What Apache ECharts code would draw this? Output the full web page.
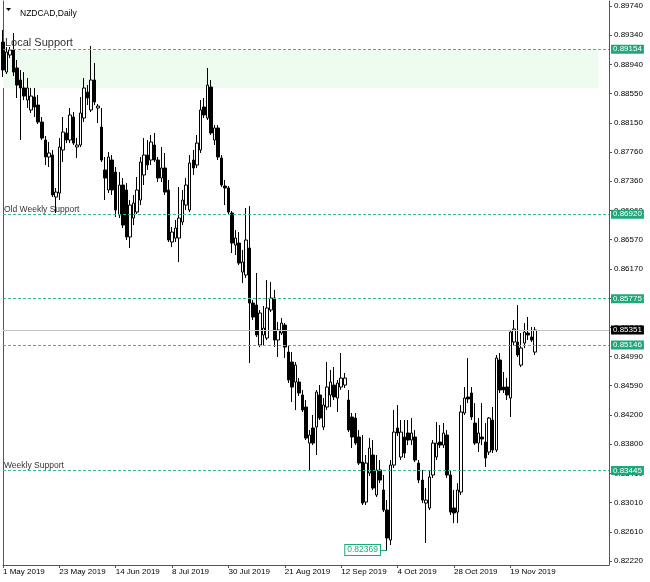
<!DOCTYPE html>
<html>
<head>
<meta charset="utf-8">
<script src="https://cdn.jsdelivr.net/npm/echarts@6/dist/echarts.min.js"></script>
<style>
html,body{margin:0;padding:0;background:#fff;}
#chart{width:650px;height:582px;}
</style>
</head>
<body>
<div id="chart"></div>
<script>
const FONT = "'Liberation Sans', Arial, sans-serif";
const symbolName = 'NZDCAD,Daily';
const xTickLabels = ['1 May 2019','23 May 2019','14 Jun 2019','8 Jul 2019','30 Jul 2019','21 Aug 2019','12 Sep 2019','4 Oct 2019','28 Oct 2019','19 Nov 2019'];
const yTickLabels = ['0.82220','0.82610','0.83010','0.83410','0.83800','0.84200','0.84590','0.84990','0.85380','0.85780','0.86170','0.86570','0.86960','0.87360','0.87760','0.88150','0.88550','0.88940','0.89340','0.89740'];
const yMin = 0.8222, yMax = 0.8974;
const barsPerLabel = 16;
const totalSlots = 173;

const openPrices = [
0.89252,0.88845,0.89076,0.89144,0.88900,0.88737,0.88629,0.88466,0.88331,0.88507,
0.88398,0.88168,0.87924,0.87694,0.87721,0.87152,0.87206,0.87789,0.88019,0.87924,
0.88236,0.87829,0.87856,0.88222,0.88574,0.88331,0.88737,0.88358,0.88100,0.87518,
0.87247,0.87653,0.87490,0.86908,0.87314,0.87247,0.86610,0.86867,0.86948,0.87111,
0.87450,0.87721,0.87653,0.87856,0.87653,0.87409,0.87545,0.87247,0.86542,0.86596,
0.86596,0.86813,0.87043,0.86976,0.87653,0.87585,0.87789,0.88371,0.88222,0.88642,
0.87924,0.88087,0.87680,0.87301,0.87274,0.86935,0.86501,0.86528,0.86135,0.86095,
0.86461,0.85715,0.85688,0.85146,0.85282,0.85241,0.85621,0.85783,0.85214,0.85309,
0.85417,0.85051,0.84916,0.84645,0.84645,0.84469,0.84306,0.83818,0.84022,0.84035,
0.84469,0.84035,0.84306,0.84469,0.84604,0.84428,0.84577,0.84604,0.84401,0.84171,
0.84157,0.83900,0.83561,0.83019,0.83412,0.83656,0.83114,0.83453,0.83182,0.82911,
0.82504,0.83520,0.84022,0.83629,0.83900,0.83954,0.83859,0.83900,0.83547,0.83317,
0.83005,0.82938,0.83385,0.83629,0.83832,0.83791,0.83927,0.83385,0.82938,0.82883,
0.83154,0.84225,0.84442,0.84496,0.84089,0.83818,0.83900,0.83832,0.83696,0.84130,
0.83724,0.84943,0.84577,0.84577,0.84428,0.85187,0.85187,0.84875,0.85173,0.85309,0.85255,0.85051];
const highPrices = [
0.89415,0.89184,0.89184,0.89374,0.89008,0.88873,0.88845,0.88764,0.88629,0.88629,
0.88534,0.88236,0.87978,0.87897,0.87789,0.87274,0.87951,0.88236,0.88087,0.88358,
0.88303,0.87951,0.88507,0.88764,0.88669,0.89198,0.88967,0.88412,0.88358,0.87694,
0.87761,0.87721,0.87558,0.87490,0.87409,0.87341,0.87111,0.87179,0.87423,0.87694,
0.87951,0.87924,0.87992,0.88019,0.87694,0.87829,0.87748,0.87382,0.86745,0.86840,
0.87287,0.87247,0.87409,0.87721,0.87789,0.87992,0.88466,0.88493,0.88900,0.88737,
0.88127,0.88127,0.87721,0.87382,0.87301,0.86962,0.86705,0.86677,0.86434,0.87003,
0.87030,0.85756,0.86122,0.85621,0.85675,0.86027,0.86000,0.85892,0.85458,0.85512,
0.85444,0.85146,0.85051,0.84916,0.84699,0.84537,0.84401,0.83995,0.84198,0.84537,
0.84604,0.84428,0.84916,0.84808,0.84848,0.84672,0.85038,0.84767,0.84537,0.84225,
0.84225,0.83995,0.83927,0.83656,0.83886,0.83859,0.83656,0.83588,0.83385,0.83046,
0.83588,0.84266,0.84333,0.84130,0.84130,0.84130,0.84157,0.83995,0.83588,0.83453,
0.83209,0.83453,0.83859,0.84103,0.84062,0.84089,0.83995,0.83453,0.83182,0.83276,
0.84333,0.84577,0.84970,0.84577,0.84360,0.84157,0.84360,0.84089,0.84171,0.84306,
0.85011,0.85038,0.84780,0.84699,0.85350,0.85485,0.85688,0.85309,0.85444,0.85526,0.85390,0.85390];
const lowPrices = [
0.88778,0.88818,0.89035,0.88791,0.88493,0.87924,0.88466,0.88358,0.88290,0.88236,
0.88141,0.87924,0.87585,0.87558,0.87152,0.86935,0.87111,0.87626,0.87883,0.87883,
0.87856,0.87680,0.87829,0.88168,0.88398,0.88303,0.88398,0.88154,0.87626,0.87111,
0.87206,0.87179,0.86881,0.86867,0.86732,0.86569,0.86461,0.86772,0.86921,0.87043,
0.87314,0.87518,0.87585,0.87626,0.87355,0.87355,0.87179,0.86542,0.86474,0.86542,
0.86271,0.86772,0.86976,0.86948,0.87450,0.87545,0.87748,0.88222,0.88195,0.87992,
0.87856,0.87653,0.87287,0.87043,0.86921,0.86393,0.86366,0.86230,0.85986,0.86054,
0.84902,0.85485,0.85255,0.85119,0.85146,0.85214,0.85594,0.85119,0.84984,0.85282,
0.84970,0.84632,0.84374,0.84266,0.84455,0.84239,0.83859,0.83453,0.83791,0.83656,
0.84130,0.83995,0.84266,0.84306,0.84401,0.84239,0.84537,0.84564,0.83967,0.83751,
0.83791,0.83520,0.82978,0.82978,0.83371,0.83182,0.83087,0.83276,0.82883,0.82369,
0.82436,0.83480,0.83913,0.83588,0.83615,0.83791,0.83791,0.83561,0.83276,0.83005,
0.82464,0.82911,0.83344,0.83588,0.83751,0.83751,0.83344,0.82843,0.82734,0.82734,
0.83114,0.84198,0.84360,0.84130,0.83791,0.83696,0.83791,0.83493,0.83656,0.83683,
0.83696,0.84496,0.84496,0.84401,0.84171,0.85146,0.84984,0.84848,0.85106,0.85214,0.85187,0.85011];
const closePrices = [
0.88873,0.89116,0.89144,0.88845,0.88669,0.88629,0.88520,0.88629,0.88520,0.88371,
0.88168,0.87951,0.87694,0.87748,0.87179,0.87219,0.87829,0.88032,0.87924,0.88263,
0.87883,0.87856,0.88290,0.88629,0.88493,0.88737,0.88439,0.88385,0.87653,0.87409,
0.87694,0.87247,0.86976,0.87314,0.86772,0.86610,0.87043,0.87070,0.87247,0.87626,
0.87721,0.87585,0.87897,0.87653,0.87409,0.87545,0.87219,0.86569,0.86677,0.86732,
0.86867,0.87111,0.87314,0.87612,0.87545,0.87883,0.88331,0.88263,0.88669,0.88019,
0.88087,0.87694,0.87314,0.87274,0.86948,0.86528,0.86596,0.86257,0.86271,0.86569,
0.85715,0.85526,0.85282,0.85580,0.85377,0.85648,0.85783,0.85214,0.85350,0.85444,
0.85119,0.84672,0.84577,0.84875,0.84496,0.84266,0.83886,0.83927,0.83818,0.84509,
0.84157,0.84333,0.84577,0.84645,0.84442,0.84631,0.84699,0.84699,0.83995,0.83900,
0.83818,0.83547,0.83005,0.83547,0.83751,0.83209,0.83453,0.83317,0.82911,0.82531,
0.83520,0.83967,0.83954,0.83967,0.83683,0.83859,0.83954,0.83588,0.83317,0.83046,
0.83046,0.83358,0.83818,0.83818,0.83791,0.83954,0.83385,0.82883,0.82870,0.83182,
0.84239,0.84428,0.84415,0.84171,0.83818,0.83954,0.83873,0.83615,0.84157,0.83724,
0.84970,0.84537,0.84537,0.84469,0.85323,0.85363,0.85011,0.85106,0.85323,0.85282,0.85214,0.85350];

const levelPrices = [0.89154, 0.86920, 0.85775, 0.85146, 0.83445];
const levelTexts = ['Local Support', 'Old Weekly Support', '', '', 'Weekly Support'];
const zonePrices = [0.89154, 0.88629];
const zoneEndSlot = 169;
const currentPrice = 0.85351;
const lowPrice = 0.82369;
const lowSlot = 109;
const lowLabelSlot = 107;

const GREEN = '#1fa878';
const LINE_GREEN = '#3cb98c';

const slots = [];
for (let i = 0; i < totalSlots; i++) slots.push(String(i));
const candles = openPrices.map((o, i) => [o, closePrices[i], lowPrices[i], highPrices[i]]);
const yInterval = (yMax - yMin) / (yTickLabels.length - 1);
const isLabelSlot = (idx) => idx % barsPerLabel === 0 && (idx / barsPerLabel) < xTickLabels.length;

const priceBox = (txt, bg) => ({show: true, position: 'end', distance: 2, formatter: txt,
  backgroundColor: bg, color: '#fff', fontSize: 8, fontFamily: FONT,
  padding: [1, 2, 0, 2], lineHeight: 8, borderWidth: 0});

const markLines = [];
levelPrices.forEach((p, k) => {
  markLines.push({
    yAxis: p,
    lineStyle: {color: LINE_GREEN, type: [3, 2], width: 1},
    label: priceBox(p.toFixed(5), GREEN)
  });
  if (levelTexts[k]) {
    const big = k === 0;
    markLines.push({
      yAxis: p,
      lineStyle: {color: 'rgba(0,0,0,0)', width: 1},
      label: {show: true, position: 'insideStartTop', distance: big ? [2, 1] : [1, 0],
        formatter: levelTexts[k], color: '#333', fontSize: big ? 11 : 8.5, fontFamily: FONT,
        backgroundColor: 'transparent', borderWidth: 0, padding: 0}
    });
  }
});
markLines.push({
  yAxis: currentPrice,
  lineStyle: {color: '#c4c4c4', type: 'solid', width: 1},
  label: priceBox(currentPrice.toFixed(5), '#000')
});
const lowLabel = {show: true, position: 'start', distance: 0, formatter: lowPrice.toFixed(5),
  backgroundColor: '#fff', borderColor: GREEN, borderWidth: 1, color: GREEN,
  fontSize: 8.5, fontFamily: FONT, padding: [1, 2, 0, 2]};
markLines.push([
  {coord: [lowLabelSlot, lowPrice], lineStyle: {color: GREEN, type: 'solid', width: 1}, label: lowLabel},
  {coord: [lowSlot, lowPrice], lineStyle: {color: GREEN, type: 'solid', width: 1}, label: lowLabel}
]);

const chart = echarts.init(document.getElementById('chart'), null, {renderer: 'canvas'});
chart.setOption({
  animation: false,
  backgroundColor: '#fff',
  textStyle: {fontFamily: FONT},
  title: {text: symbolName, left: 15, top: 4, textStyle: {fontSize: 8.5, fontWeight: 'normal', color: '#000', fontFamily: FONT}},
  graphic: [{type: 'polygon', shape: {points: [[6, 8], [11, 8], [8.5, 11]]}, style: {fill: '#000'}}],
  grid: [
    {left: 3, right: 41, top: 1, bottom: 17},
    {left: 3, right: 41, top: 6, bottom: 21}
  ],
  xAxis: [
    {type: 'category', gridIndex: 0, data: slots, boundaryGap: false,
      axisLine: {show: true, lineStyle: {color: '#555', width: 1}},
      axisTick: {show: true, length: 3, interval: (idx) => isLabelSlot(idx), lineStyle: {color: '#555'}},
      axisLabel: {show: true, interval: (idx) => isLabelSlot(idx), formatter: (v, idx) => xTickLabels[idx / barsPerLabel] || '',
        align: 'left', margin: 3, fontSize: 8, color: '#000', fontFamily: FONT},
      splitLine: {show: false}},
    {type: 'category', gridIndex: 1, data: slots, boundaryGap: false, show: false}
  ],
  yAxis: [
    {type: 'value', gridIndex: 0, position: 'left', min: 0, max: 1,
      axisLine: {show: true, lineStyle: {color: '#555'}}, axisTick: {show: false}, axisLabel: {show: false}, splitLine: {show: false}},
    {type: 'value', gridIndex: 0, position: 'right', min: 0, max: 1,
      axisLine: {show: true, lineStyle: {color: '#555'}}, axisTick: {show: false}, axisLabel: {show: false}, splitLine: {show: false}},
    {type: 'value', gridIndex: 1, position: 'right', min: yMin, max: yMax, interval: yInterval, scale: true,
      axisLine: {show: false},
      axisTick: {show: true, length: 3, lineStyle: {color: '#555'}},
      axisLabel: {show: true, margin: 5, fontSize: 8, color: '#000', fontFamily: FONT,
        formatter: (v) => yTickLabels[Math.round((v - yMin) / yInterval)] || ''},
      splitLine: {show: false}}
  ],
  series: [{
    type: 'candlestick',
    xAxisIndex: 1, yAxisIndex: 2,
    data: candles,
    barWidth: 3,
    itemStyle: {color: '#ffffff', color0: '#000000', borderColor: '#000000', borderColor0: '#000000', borderWidth: 1},
    markArea: {
      silent: true,
      itemStyle: {color: '#edfcef'},
      data: [[{xAxis: 0, yAxis: zonePrices[0]}, {xAxis: zoneEndSlot, yAxis: zonePrices[1]}]]
    },
    markLine: {
      silent: true,
      precision: 5,
      symbol: ['none', 'none'],
      data: markLines
    }
  }]
});
</script>
</body>
</html>
